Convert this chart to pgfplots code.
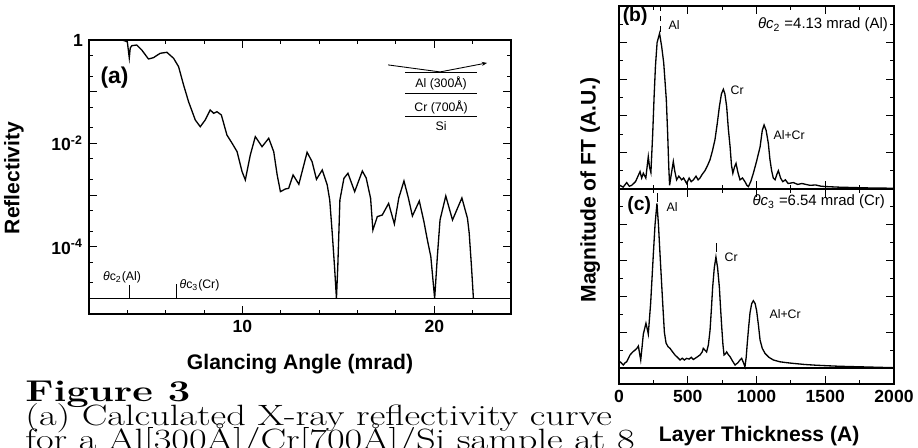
\documentclass[border=0pt]{standalone}
\usepackage{pgfplots}
\pgfplotsset{compat=1.18}
\usepackage{fontspec}
\setsansfont{Liberation Sans}
\usetikzlibrary{arrows.meta}

\pgfplotsset{
  panel/.style={
    scale only axis, anchor=south west,
    axis line style={line width=0.9pt},
    tick style={line width=0.6pt, black},
    major tick length=0.16cm, minor tick length=0.08cm,
    tick label style={font=\sffamily\bfseries\fontsize{10}{12}\selectfont},
    /pgf/number format/assume math mode=true,
  },
  curve/.style={black, line width=0.75pt, mark=none},
}

\begin{document}
\begin{tikzpicture}
\path[use as bounding box] (0,0) rectangle (18.36,8.96);
\clip (0,0) rectangle (18.36,8.96);

% ---------- (a) reflectivity ----------
\begin{axis}[panel, at={(1.78cm,2.68cm)}, width=8.44cm, height=5.48cm,
    ymode=log, xmin=2, xmax=24, ymin=5e-6, ymax=1,
    xtick={10,20}, xticklabels={10,20},
    minor xtick={4,6,8,12,14,16,18,22},
    ytick={1,1e-1,1e-2,1e-3,1e-4,1e-5},
    yticklabels={1,,10\textsuperscript{-2},,10\textsuperscript{-4},},
    minor ytick={5e-1,2e-1,5e-2,2e-2,5e-3,2e-3,5e-4,2e-4,5e-5,2e-5,5e-6}]
  \addplot[curve] coordinates {
    (2.0,1) (3.0,1) (3.7,1) (3.9,0.956) (4.0,0.915) (4.10,0.449) (4.15,0.700)
    (4.23,0.776) (4.49,0.800) (4.75,0.641) (5.10,0.429) (5.36,0.455)
    (5.71,0.553) (6.06,0.578) (6.41,0.443) (6.67,0.305) (6.93,0.135)
    (7.19,0.0641) (7.54,0.0284) (7.80,0.0210) (8.06,0.0284) (8.32,0.0443)
    (8.50,0.0382) (8.67,0.0410) (8.90,0.0354) (9.19,0.01453) (9.46,0.01005)
    (9.72,0.00691) (9.98,0.00284) (10.15,0.00196) (10.41,0.00597)
    (10.67,0.01349) (11.02,0.00863) (11.37,0.01256) (11.63,0.00691)
    (11.81,0.00245) (11.98,0.001164) (12.24,0.001312) (12.41,0.001352)
    (12.64,0.00245) (12.94,0.001618) (13.37,0.00673) (13.63,0.00443)
    (13.86,0.00202) (14.16,0.00306) (14.42,0.001568) (14.55,0.000804)
    (14.68,0.000185) (14.80,4.12e-5) (14.90,1e-5) (14.97,4.12e-5)
    (15.08,0.000804) (15.29,0.00211) (15.50,0.00264) (15.85,0.001164)
    (16.25,0.00292) (16.45,0.00214) (16.68,0.000867) (16.80,0.000211)
    (17.03,0.000382) (17.29,0.000412) (17.62,0.000689) (17.92,0.000276)
    (18.15,0.000879) (18.42,0.001875) (18.65,0.000879) (18.86,0.000394)
    (19.22,0.000769) (19.46,0.000306) (19.64,0.0001355) (19.82,6.44e-5)
    (20.02,1e-5) (20.16,6.44e-5) (20.30,0.00033) (20.60,0.000961)
    (20.95,0.00033) (21.44,0.000879) (21.73,0.000356) (21.82,0.000185)
    (21.94,4.12e-5) (22.04,1e-5)
  };
  \addplot[black, line width=0.7pt] coordinates {(2,1e-5) (24,1e-5)};
  \addplot[black, line width=0.6pt] coordinates {(4.13,1e-5) (4.13,1.8e-5)};
  \addplot[black, line width=0.6pt] coordinates {(6.54,1e-5) (6.54,1.9e-5)};
\end{axis}

% ---------- (b) FT at theta_c2 ----------
\begin{axis}[panel, at={(12.38cm,5.18cm)}, width=5.5cm, height=3.66cm,
    xmin=0, xmax=2000, ymin=0, ymax=1,
    xtick={0,500,...,2000}, xticklabels={}, minor x tick num=1,
    ytick={0,0.2,...,1}, yticklabels={}, minor y tick num=1]
  \addplot[curve] coordinates {
    (0,0.01) (7,0.02) (30,0.01) (56,0.035) (75,0.015) (92,0.02) (120,0.04)
    (153,0.095) (165,0.06) (177,0.086) (195,0.06) (213,0.177) (222,0.12)
    (232,0.09) (245,0.3) (255,0.5) (265,0.67) (277,0.80) (295,0.85)
    (310,0.78) (325,0.69) (344,0.49) (354,0.30) (362,0.12) (368,0.02)
    (380,0.08) (395,0.15) (405,0.10) (419,0.05) (435,0.07) (456,0.05)
    (470,0.06) (492,0.03) (510,0.06) (525,0.04) (541,0.05) (560,0.07)
    (575,0.05) (589,0.06) (605,0.08) (625,0.10) (645,0.13) (662,0.16)
    (680,0.21) (698,0.27) (715,0.36) (730,0.45) (745,0.52) (759,0.545)
    (770,0.52) (783,0.45) (795,0.33) (808,0.23) (818,0.13) (828,0.086)
    (840,0.12) (851,0.14) (865,0.09) (880,0.05) (898,0.06) (916,0.04)
    (930,0.02) (941,0.013) (958,0.04) (977,0.086) (1000,0.15) (1026,0.23)
    (1042,0.32) (1055,0.35) (1070,0.32) (1086,0.25) (1098,0.16) (1110,0.10)
    (1122,0.06) (1135,0.05) (1148,0.08) (1159,0.10) (1175,0.06) (1191,0.04)
    (1210,0.05) (1230,0.03) (1268,0.035) (1300,0.025) (1330,0.03)
    (1389,0.02) (1430,0.022) (1470,0.015) (1511,0.013) (1600,0.01)
    (1700,0.008) (1800,0.006) (1900,0.005) (2000,0.004)
  };
  \addplot[black, line width=0.5pt, dashed] coordinates {(300,0.86) (300,1)};
\end{axis}

% ---------- (c) FT at theta_c3 ----------
\begin{axis}[panel, at={(12.38cm,1.28cm)}, width=5.5cm, height=3.9cm,
    xmin=0, xmax=2000, ymin=-0.089, ymax=1,
    xtick={0,500,...,2000}, xticklabels={0,500,1000,1500,2000},
    minor x tick num=1,
    ytick={0,0.2,...,1}, yticklabels={}, minor y tick num=1]
  \addplot[curve] coordinates {
    (0,0.04) (15,0.03) (31,0.017) (45,0.03) (56,0.035) (80,0.073) (100,0.09)
    (116,0.10) (130,0.11) (141,0.123) (150,0.08) (158,0.045) (168,0.12)
    (177,0.19) (196,0.25) (205,0.22) (213,0.19) (222,0.28) (230,0.36)
    (240,0.5) (250,0.64) (262,0.8) (276,0.92) (287,0.8) (298,0.64) (308,0.5)
    (318,0.36) (330,0.2) (342,0.14) (356,0.12) (371,0.11) (390,0.09)
    (407,0.073) (425,0.06) (444,0.045) (460,0.055) (475,0.045) (492,0.054)
    (510,0.05) (525,0.06) (541,0.048) (565,0.06) (589,0.073) (605,0.09)
    (613,0.11) (625,0.10) (637,0.09) (650,0.13) (662,0.21) (672,0.33)
    (681,0.45) (693,0.56) (705,0.62) (717,0.56) (730,0.45) (739,0.33)
    (747,0.23) (756,0.13) (764,0.073) (775,0.08) (783,0.09) (795,0.075)
    (808,0.063) (825,0.04) (844,0.017) (865,0.03) (880,0.045) (892,0.054)
    (905,0.03) (916,0.007) (925,0.06) (933,0.14) (943,0.23) (953,0.31)
    (965,0.36) (977,0.376) (990,0.36) (1001,0.32) (1014,0.24) (1026,0.156)
    (1042,0.11) (1062,0.082) (1090,0.06) (1123,0.045) (1170,0.035)
    (1220,0.03) (1268,0.026) (1350,0.02) (1430,0.016) (1511,0.013)
    (1600,0.01) (1700,0.008) (1800,0.006) (1900,0.004) (2000,0.002)
  };
  \addplot[black, line width=0.7pt] coordinates {(0,0) (2000,0)};
  \addplot[black, line width=0.5pt] coordinates {(705,0.65) (705,0.70)};
  \addplot[black, line width=0.5pt] coordinates {(278,0.93) (278,0.98)};
\end{axis}

% ---------- labels, in reference pixels ----------
\begin{scope}[x=0.02cm, y=0.02cm]
\begin{scope}[font=\sffamily\bfseries\fontsize{12}{14}\selectfont]
  \node[rotate=90] at (14,270) {Reflectivity};
  \node[anchor=base] at (300,78) {Glancing Angle (mrad)};
  \node[rotate=90] at (590,258) {Magnitude of FT (A.U.)};
  \node[anchor=base] at (759,6.5) {Layer Thickness (A)};
\end{scope}
\node[font=\sffamily\bfseries\fontsize{13}{15}\selectfont] at (114.5,370) {(a)};
\node[font=\sffamily\bfseries\fontsize{11}{13}\selectfont] at (635,431.5) {(b)};
\node[font=\sffamily\bfseries\fontsize{11}{13}\selectfont] at (639,242) {(c)};

\begin{scope}[font=\sffamily\fontsize{7}{8}\selectfont, inner sep=0pt]
  \node at (674,423) {Al};
  \node at (737,358) {Cr};
  \node at (789,313) {Al+Cr};
  \node at (672,241) {Al};
  \node at (731,191) {Cr};
  \node at (785,134) {Al+Cr};
  % inset of panel (a)
  \node at (441,365) {Al (300Å)};
  \node at (441,341) {Cr (700Å)};
  \node at (441,322) {Si};
\end{scope}
\begin{scope}[font=\sffamily\fontsize{8.5}{10}\selectfont, inner sep=0pt]
  \node[anchor=east] at (888,423) {{\itshape θc}\textsubscript{2} =4.13 mrad (Al)};
  \node[anchor=east] at (885,246) {{\itshape θc}\textsubscript{3} =6.54 mrad (Cr)};
\end{scope}
\begin{scope}[font=\sffamily\fontsize{7}{8}\selectfont, inner sep=0pt]
  \node at (122,171) {{\itshape θ}c\textsubscript{2}(Al)};
  \node at (199.5,163) {{\itshape θ}c\textsubscript{3}(Cr)};
\end{scope}
\draw[line width=0.5pt] (405,375) -- (477,375);
\draw[line width=0.5pt] (405,354) -- (477,354);
\draw[line width=0.5pt] (405,331) -- (477,331);
\draw[line width=0.5pt, -{Stealth[length=3pt]}] (388,383) -- (440,376) -- (487,385);

% ---------- caption ----------
\begin{scope}[inner sep=0pt]
  \node[anchor=base west, xscale=1.2, yscale=0.9, transform shape,
        font=\bfseries\fontsize{19}{22}\selectfont] at (25,46) {Figure 3};
  \node[anchor=base west, xscale=1.15, yscale=0.88, transform shape,
        font=\fontsize{19}{22}\selectfont] at (25,22)
    {(a) Calculated X-ray reflectivity curve};
  \node[anchor=base west, xscale=1.15, yscale=0.88, transform shape,
        font=\fontsize{19}{22}\selectfont] at (25,-1.6)
    {for a Al[300Å]/Cr[700Å]/Si sample at 8};
\end{scope}
\end{scope}
\end{tikzpicture}
\end{document}
